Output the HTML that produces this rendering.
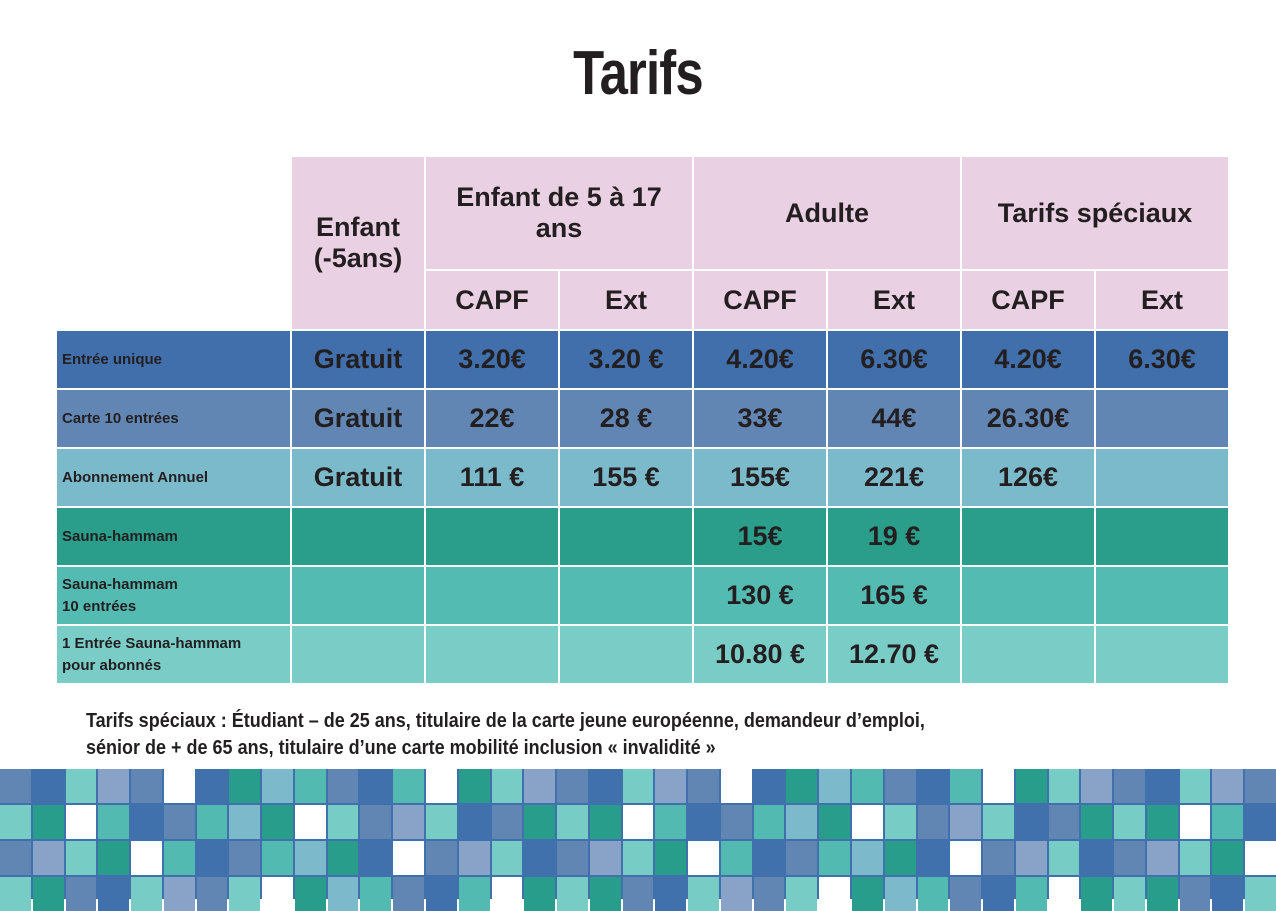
<!DOCTYPE html>
<html><head><meta charset="utf-8"><style>
body{margin:0;width:1276px;height:896px;background:#fff;position:relative;overflow:hidden;font-family:"Liberation Sans",sans-serif;color:#231f20}
h1{position:absolute;left:0;width:1276px;top:38px;margin:0;text-align:center;font-size:62px;font-weight:bold;transform:scaleX(.82);letter-spacing:-1px}
table{position:absolute;left:55px;top:155px;width:1175px;border-collapse:collapse;table-layout:fixed}
td{border:2px solid #fff;text-align:center;font-weight:bold;padding:0}
.h{background:#ead0e3;font-size:27px}
.v td{height:57px;font-size:27px}
.v td.l{text-align:left;font-size:15px;padding-left:5px;line-height:22px}
.r1 td{background:#416fab}.r2 td{background:#6186b4}.r3 td{background:#7bbacb}
.r4 td{background:#2a9d8b}.r5 td{background:#53bbb2}.r6 td{background:#7acdc7}
.note{position:absolute;left:86px;top:708px;font-size:20px;font-weight:bold;line-height:27px;transform:scaleX(.9);transform-origin:left top;white-space:nowrap}
.mosaic{position:absolute;left:0;top:769px;width:1276px;height:130px;background:#4071ac;display:grid;grid-template-columns:repeat(39,1fr);grid-auto-rows:34px;gap:2px}
</style></head><body>
<h1>Tarifs</h1>
<table>
<colgroup><col style="width:235px"><col span="7" style="width:134px"></colgroup>
<tr><td rowspan="2" style="border:none;background:#fff"></td>
<td rowspan="2" class="h" style="height:172px">Enfant<br>(-5ans)</td>
<td colspan="2" class="h" style="height:111px">Enfant de 5 à 17<br>ans</td>
<td colspan="2" class="h">Adulte</td>
<td colspan="2" class="h">Tarifs spéciaux</td></tr>
<tr><td class="h" style="height:57px">CAPF</td><td class="h">Ext</td><td class="h">CAPF</td><td class="h">Ext</td><td class="h">CAPF</td><td class="h">Ext</td></tr>
<tr class="v r1"><td class="l">Entrée unique</td><td>Gratuit</td><td>3.20€</td><td>3.20 €</td><td>4.20€</td><td>6.30€</td><td>4.20€</td><td>6.30€</td></tr>
<tr class="v r2"><td class="l">Carte 10 entrées</td><td>Gratuit</td><td>22€</td><td>28 €</td><td>33€</td><td>44€</td><td>26.30€</td><td></td></tr>
<tr class="v r3"><td class="l">Abonnement Annuel</td><td>Gratuit</td><td>111 €</td><td>155 €</td><td>155€</td><td>221€</td><td>126€</td><td></td></tr>
<tr class="v r4"><td class="l">Sauna-hammam</td><td></td><td></td><td></td><td>15€</td><td>19 €</td><td></td><td></td></tr>
<tr class="v r5"><td class="l">Sauna-hammam<br>10 entrées</td><td></td><td></td><td></td><td>130 €</td><td>165 €</td><td></td><td></td></tr>
<tr class="v r6"><td class="l">1 Entrée Sauna-hammam<br>pour abonnés</td><td></td><td></td><td></td><td>10.80 €</td><td>12.70 €</td><td></td><td></td></tr>
</table>
<div class="note">Tarifs spéciaux : Étudiant – de 25 ans, titulaire de la carte jeune européenne, demandeur d’emploi,<br>sénior de + de 65 ans, titulaire d’une carte mobilité inclusion « invalidité »</div>
<div class="mosaic" id="mosaic"></div>
<script>
const colors={A:'#6186b3',B:'#4071ac',C:'#78ccc6',D:'#89a3c8',W:'#ffffff',G:'#299d8c',E:'#7bb9cb',F:'#53bab2'};
const rows=[
"ABCDAWBGEFABFWGCDABCDAWBGEFABFWGCDABCDA",
"CGWFBAFEGWCADCBAGCGWFBAFEGWCADCBAGCGWFB",
"ADCGWFBAFEGBWADCBADCGWFBAFEGBWADCBADCGW",
"CGABCDACWGEFABFWGCGABCDACWGEFABFWGCGABC"];
const m=document.getElementById('mosaic');
rows.forEach(r=>{for(const ch of r){const d=document.createElement('div');


d.style.background=colors[ch];m.appendChild(d);}});
</script>
</body></html>
